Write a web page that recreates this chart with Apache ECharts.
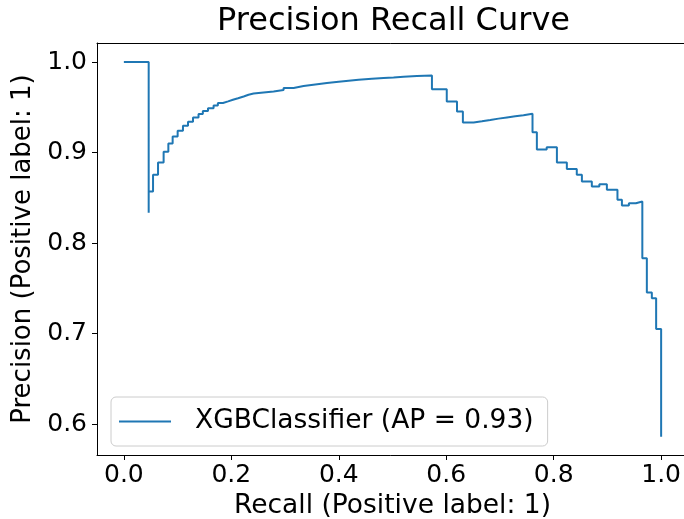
<!DOCTYPE html>
<html>
<head>
<meta charset="utf-8">
<script src="https://cdn.jsdelivr.net/npm/echarts@6/dist/echarts.min.js"></script>
<style>
html,body{margin:0;padding:0;background:#fff;overflow:hidden;}
#chart{width:684px;height:519px;}
</style>
</head>
<body>
<div id="chart"></div>
<script>
// Recall values (ascending) and matching precision values
const recall = [
  0.0, 0.0462, 0.0462, 0.0543, 0.0636, 0.074, 0.0828, 0.0908, 0.1001, 0.110,
  0.1194, 0.1287, 0.139, 0.147, 0.1566, 0.167, 0.175, 0.1845, 0.194, 0.203,
  0.2125, 0.223, 0.232, 0.2415, 0.260, 0.2787, 0.2973, 0.316, 0.3345, 0.3563,
  0.378, 0.3997, 0.4183, 0.4368, 0.4617, 0.4834, 0.502, 0.5206, 0.5455, 0.5734,
  0.601, 0.620, 0.631, 0.651, 0.6664, 0.682, 0.6973, 0.713, 0.7284, 0.7438,
  0.7606, 0.7687, 0.787, 0.806, 0.8245, 0.843, 0.8525, 0.871, 0.885, 0.899,
  0.9187, 0.927, 0.94, 0.953, 0.965, 0.9734, 0.9827, 0.9907, 1.0, 1.0
];
const precision = [
  1.0, 1.0, 0.8335, 0.857, 0.8755, 0.889, 0.9009, 0.910, 0.9178, 0.924,
  0.9296, 0.934, 0.9388, 0.9425, 0.946, 0.949, 0.952, 0.9547, 0.9565, 0.9583,
  0.960, 0.962, 0.9639, 0.9653, 0.9664, 0.9675, 0.969, 0.9713, 0.9735, 0.9753,
  0.9768, 0.9782, 0.9793, 0.9804, 0.9815, 0.9823, 0.983, 0.9838, 0.9845, 0.9852,
  0.970, 0.9565, 0.9454, 0.9333, 0.9345, 0.936, 0.9375, 0.9388, 0.940, 0.9412,
  0.943, 0.9225, 0.9035, 0.906, 0.889, 0.882, 0.8755, 0.868, 0.8625, 0.865,
  0.859, 0.848, 0.8415, 0.844, 0.846, 0.7834, 0.7454, 0.7392, 0.7053, 0.5863
];
const xTicks = [0.0, 0.2, 0.4, 0.6, 0.8, 1.0];
const yTicks = [0.6, 0.7, 0.8, 0.9, 1.0];
const seriesName = 'XGBClassifier (AP = 0.93)';
const titleText = 'Precision Recall Curve';
const xName = 'Recall (Positive label: 1)';
const yName = 'Precision (Positive label: 1)';

const points = recall.map((r, i) => [r, precision[i]]);
const FONT = 'DejaVu Sans';
function spine() {
  return {show: true, onZero: false, lineStyle: {color: '#000000', width: 1}};
}

const chart = echarts.init(document.getElementById('chart'), null, {renderer: 'canvas'});
chart.setOption({
  animation: false,
  backgroundColor: '#ffffff',
  title: {
    text: titleText,
    left: 217,
    top: 6,
    padding: 0,
    textStyle: {fontFamily: FONT, fontSize: 32, fontWeight: 'normal', color: '#000'}
  },
  grid: {
    left: 97, top: 43, width: 591, height: 412,
    show: false,
    outerBoundsMode: 'none', containLabel: false
  },
  legend: {
    left: 111, top: 397,
    orient: 'vertical',
    padding: [11, 14, 11, 8],
    backgroundColor: 'rgba(255,255,255,0.8)',
    borderColor: '#cccccc', borderWidth: 1, borderRadius: 5,
    icon: 'rect', itemWidth: 52, itemHeight: 2,
    textStyle: {fontFamily: FONT, fontSize: 26.5, color: '#000', padding: [0, 0, 0, 19]},
    data: [seriesName]
  },
  xAxis: [{
    type: 'value', min: -0.05, max: 1.05, position: 'bottom',
    name: xName, nameLocation: 'middle', nameGap: 38,
    nameTextStyle: {fontFamily: FONT, fontSize: 26.5, color: '#000'},
    axisLine: spine(),
    splitLine: {show: false},
    axisTick: {show: true, length: 5, customValues: xTicks, lineStyle: {color: '#000', width: 1}},
    axisLabel: {customValues: xTicks, margin: 8, fontFamily: FONT, fontSize: 25, color: '#000',
      formatter: v => v.toFixed(1)}
  }, {
    type: 'value', min: -0.05, max: 1.05, position: 'top',
    axisLine: spine(),
    axisTick: {show: false}, axisLabel: {show: false}, splitLine: {show: false}
  }],
  yAxis: {
    type: 'value', min: 0.5661, max: 1.021,
    name: yName, nameLocation: 'middle', nameGap: 55,
    nameTextStyle: {fontFamily: FONT, fontSize: 26, color: '#000'},
    axisLine: spine(),
    splitLine: {show: false},
    axisTick: {show: true, length: 5, customValues: yTicks, lineStyle: {color: '#000', width: 1}},
    axisLabel: {customValues: yTicks, margin: 10, fontFamily: FONT, fontSize: 25, color: '#000',
      formatter: v => v.toFixed(1)}
  },
  series: [{
    name: seriesName,
    type: 'line',
    step: 'start',
    data: points,
    showSymbol: false,
    symbol: 'none',
    lineStyle: {color: '#1f77b4', width: 2},
    itemStyle: {color: '#1f77b4'}
  }]
});
</script>
</body>
</html>
